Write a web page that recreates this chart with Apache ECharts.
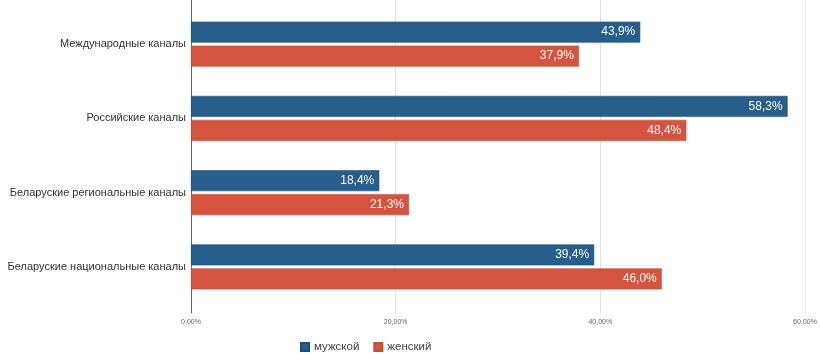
<!DOCTYPE html>
<html>
<head>
<meta charset="utf-8">
<script src="https://cdn.jsdelivr.net/npm/echarts@6/dist/echarts.min.js"></script>
<style>
  html, body { margin: 0; padding: 0; background: #fff; }
  #chart { width: 820px; height: 354px; }
</style>
</head>
<body>
<div id="chart"></div>
<script>
const categories = ['Международные каналы', 'Российские каналы', 'Беларуские региональные каналы', 'Беларуские национальные каналы'];
const male = [43.9, 58.3, 18.4, 39.4];
const female = [37.9, 48.4, 21.3, 46.0];
const seriesNames = ['мужской', 'женский'];
const xTicks = [0, 20, 40, 60];

const fmtPct = (v, d) => v.toFixed(d).replace('.', ',') + '%';

const chart = echarts.init(document.getElementById('chart'));

const labelStyle = {
  show: true,
  position: 'insideRight',
  color: '#fff',
  fontSize: 12,
  fontFamily: 'Liberation Sans, Arial, sans-serif',
  distance: 5,
  formatter: p => fmtPct(p.value, 1)
};

chart.setOption({
  animation: false,
  textStyle: { fontFamily: 'Liberation Sans, Arial, sans-serif' },
  legend: {
    data: seriesNames,
    left: 295,
    top: 336,
    itemWidth: 8,
    itemHeight: 8,
    itemGap: 14,
    icon: 'rect',
    textStyle: { fontSize: 11.5, color: '#444' }
  },
  grid: [
    { left: 191, right: 15, top: 7, height: 297, outerBoundsMode: 'none', containLabel: false },
    { left: 191, right: 15, top: 0, height: 313, outerBoundsMode: 'none', containLabel: false }
  ],
  xAxis: [
    {
      gridIndex: 0, type: 'value', min: 0, max: 60, interval: 20,
      axisLine: { show: false }, axisTick: { show: false },
      axisLabel: { show: false }, splitLine: { show: false }
    },
    {
      gridIndex: 1, type: 'value', min: xTicks[0], max: xTicks[xTicks.length - 1], interval: 20,
      axisLine: { show: false }, axisTick: { show: false },
      axisLabel: { fontSize: 7, color: '#666', margin: 6, formatter: v => fmtPct(v, 2) },
      splitLine: { show: true, lineStyle: { color: '#e2e2e2', width: 1 } }
    }
  ],
  yAxis: [
    {
      gridIndex: 0, type: 'category', data: categories, inverse: true,
      axisLine: { show: false }, axisTick: { show: false },
      axisLabel: { fontSize: 11, color: '#333', margin: 5 }
    },
    {
      gridIndex: 1, type: 'category', data: [''],
      axisLine: { show: true, lineStyle: { color: '#666', width: 1 } },
      axisTick: { show: false }, axisLabel: { show: false }
    }
  ],
  series: [
    {
      name: seriesNames[0], type: 'bar', xAxisIndex: 0, yAxisIndex: 0, data: male,
      barWidth: 21, barGap: '14%',
      itemStyle: { color: '#285e8c', borderColor: '#1f4f78', borderWidth: 0.6 },
      label: labelStyle, z: 3
    },
    {
      name: seriesNames[1], type: 'bar', xAxisIndex: 0, yAxisIndex: 0, data: female,
      barWidth: 21, barGap: '14%',
      itemStyle: { color: '#d55440', borderColor: '#c84a37', borderWidth: 0.6 },
      label: labelStyle, z: 3
    }
  ]
});
</script>
</body>
</html>
